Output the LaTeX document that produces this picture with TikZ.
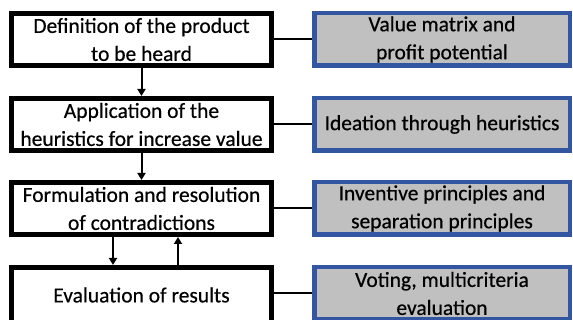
\documentclass[tikz,border=0pt]{standalone}
\usepackage{fontspec}
\setmainfont{Carlito}[FakeBold=0.5]
\usetikzlibrary{arrows.meta}
\definecolor{toolblue}{RGB}{50,86,162}
\definecolor{toolgray}{RGB}{192,192,192}
\begin{document}
\begin{tikzpicture}[x=1pt,y=-1pt,
  stepbox/.style={draw=black,line width=4.8pt,fill=white,minimum width=260.2pt,
    minimum height=52.2pt,align=center,inner sep=0pt,
    font=\fontsize{21.5}{28}\selectfont},
  toolbox/.style={draw=toolblue,line width=4.5pt,fill=toolgray,minimum width=255.5pt,
    minimum height=52.5pt,align=center,inner sep=0pt,
    font=\fontsize{21.5}{28}\selectfont},
  link/.style={line width=2pt},
  flow/.style={line width=2pt,-{Triangle[length=7pt,width=8pt]}}]
\clip (0,0) rectangle (573,320);
\fill[white] (0,0) rectangle (573,320);

% process steps
\node[stepbox] (s1) at (141.5,39.5) {Definition of the product\\to be heard};
\node[stepbox] (s2) at (141.5,124.5) {Application of the\\heuristics for increase value};
\node[stepbox] (s3) at (141.5,208.5) {Formulation and resolution\\of contradictions};
\node[stepbox,minimum height=55.2pt] (s4) at (141.5,295) {Evaluation of results};

% supporting tools
\node[toolbox] (t1) at (442,39.5) {Value matrix and\\profit potential};
\node[toolbox] (t2) at (442,124.5) {Ideation through heuristics};
\node[toolbox] (t3) at (442,208.5) {Inventive principles and\\separation principles};
\node[toolbox] (t4) at (442,293.5) {Voting, multicriteria\\evaluation};

% links between steps and tools
\draw[link] (s1.east) -- (t1.west);
\draw[link] (s2.east) -- (t2.west);
\draw[link] (s3.east) -- (t3.west);
\draw[link] (s4.east |- t4.west) -- (t4.west);

% flow between steps
\draw[flow] (s1.south) -- (s2.north);
\draw[flow] (s2.south) -- (s3.north);
\draw[flow] ([xshift=-28.5pt]s3.south) -- ([xshift=-28.5pt]s4.north);
\draw[flow] ([xshift=36.5pt]s4.north) -- ([xshift=36.5pt]s3.south);
\end{tikzpicture}
\end{document}
